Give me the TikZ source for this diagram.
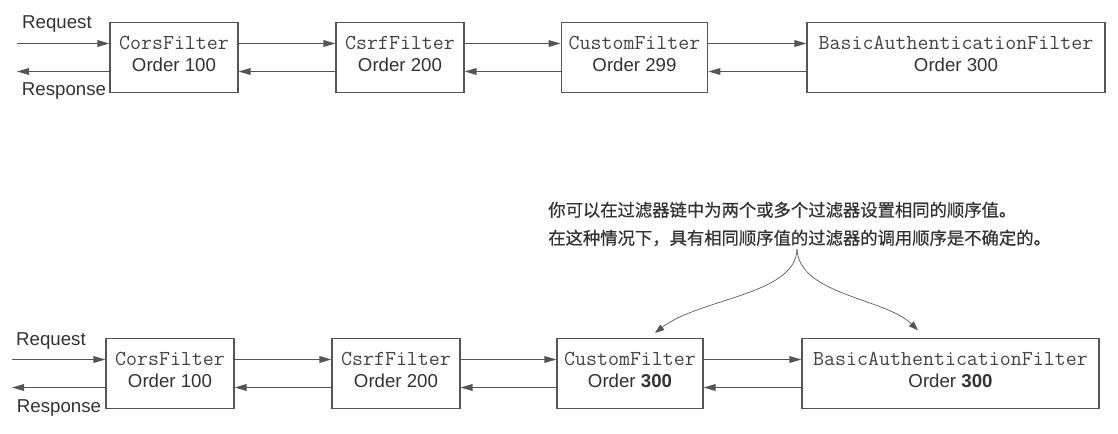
\documentclass[tikz,border=0pt]{standalone}
\usepackage{fontspec}
\setmainfont{Liberation Sans}
\newfontfamily\cjk{Noto Sans CJK SC}[FakeBold=0.6]
\usetikzlibrary{arrows.meta}
\definecolor{linegray}{HTML}{555555}
\definecolor{textgray}{HTML}{333333}
\definecolor{codegray}{HTML}{444444}
\newcommand{\cls}[1]{{\ttfamily\fontsize{16}{16.5}\selectfont\color{codegray}#1}}
\tikzset{
    filter/.style={draw=linegray,line width=0.8pt,inner sep=0pt,minimum height=52pt,align=center,text=textgray,
        execute at end node={\rule[-5.5pt]{0pt}{0pt}}},
    flow/.style={draw=linegray,line width=0.9pt,-{Triangle[length=9pt,width=5pt]}},
    hint/.style={draw=linegray,line width=0.5pt,-{Triangle[length=7pt,width=5pt]}}
}
\begin{document}
\begin{tikzpicture}[x=0.75pt,y=-0.75pt,font=\fontsize{14}{16.5}\selectfont,text=textgray]
    \useasboundingbox (0,0) rectangle (1118,433);
    % first chain, distinct orders
    \node[filter,minimum width=96pt] (cors1) at (174,57.5) {\cls{CorsFilter}\\Order 100};
    \node[filter,minimum width=96pt] (csrf1) at (400,57.5) {\cls{CsrfFilter}\\Order 200};
    \node[filter,minimum width=110pt] (custom1) at (634.5,57.5) {\cls{CustomFilter}\\Order 299};
    \node[filter,minimum width=223.5pt] (basic1) at (956,57.5) {\cls{BasicAuthenticationFilter}\\Order 300};
    \node (req1) at (57,24) {Request};
    \node (resp1) at (64,91) {Response};
    \coordinate (end1) at (17,57.5);
    \draw[flow] ([yshift=10.5pt]end1) -- ([yshift=10.5pt]cors1.west);
    \draw[flow] ([yshift=-10.5pt]cors1.west) -- ([yshift=-10.5pt]end1);
    \foreach \a/\b in {cors1/csrf1,csrf1/custom1,custom1/basic1}{
        \draw[flow] ([yshift=10.5pt]\a.east) -- ([yshift=10.5pt]\b.west);
        \draw[flow] ([yshift=-10.5pt]\b.west) -- ([yshift=-10.5pt]\a.east);
    }
    % second chain, equal orders
    \node[filter,minimum width=96pt] (cors2) at (170,373.5) {\cls{CorsFilter}\\Order 100};
    \node[filter,minimum width=96pt] (csrf2) at (396,373.5) {\cls{CsrfFilter}\\Order 200};
    \node[filter,minimum width=109.5pt] (custom2) at (630,373.5) {\cls{CustomFilter}\\Order \textbf{300}};
    \node[filter,minimum width=222.75pt] (basic2) at (950.5,373.5) {\cls{BasicAuthenticationFilter}\\Order \textbf{300}};
    \node (req2) at (51,341) {Request};
    \node (resp2) at (59,408) {Response};
    \coordinate (end2) at (12,373.5);
    \draw[flow] ([yshift=10.5pt]end2) -- ([yshift=10.5pt]cors2.west);
    \draw[flow] ([yshift=-10.5pt]cors2.west) -- ([yshift=-10.5pt]end2);
    \foreach \a/\b in {cors2/csrf2,csrf2/custom2,custom2/basic2}{
        \draw[flow] ([yshift=10.5pt]\a.east) -- ([yshift=10.5pt]\b.west);
        \draw[flow] ([yshift=-10.5pt]\b.west) -- ([yshift=-10.5pt]\a.east);
    }
    % note
    \node[anchor=west,align=left,inner sep=0pt,font=\cjk\fontsize{13}{21}\selectfont] (note) at (548,224)
        {你可以在过滤器链中为两个或多个过滤器设置相同的顺序值。\\在这种情况下，具有相同顺序值的过滤器的调用顺序是不确定的。};
    \coordinate (fork) at (797,249);
    \draw[hint] (fork) .. controls (796,295) and (700,298) .. ([xshift=18.75pt,yshift=4pt]custom2.north);
    \draw[hint] (fork) .. controls (799,295) and (885,298) .. ([xshift=-24.4pt,yshift=6pt]basic2.north);
\end{tikzpicture}
\end{document}
